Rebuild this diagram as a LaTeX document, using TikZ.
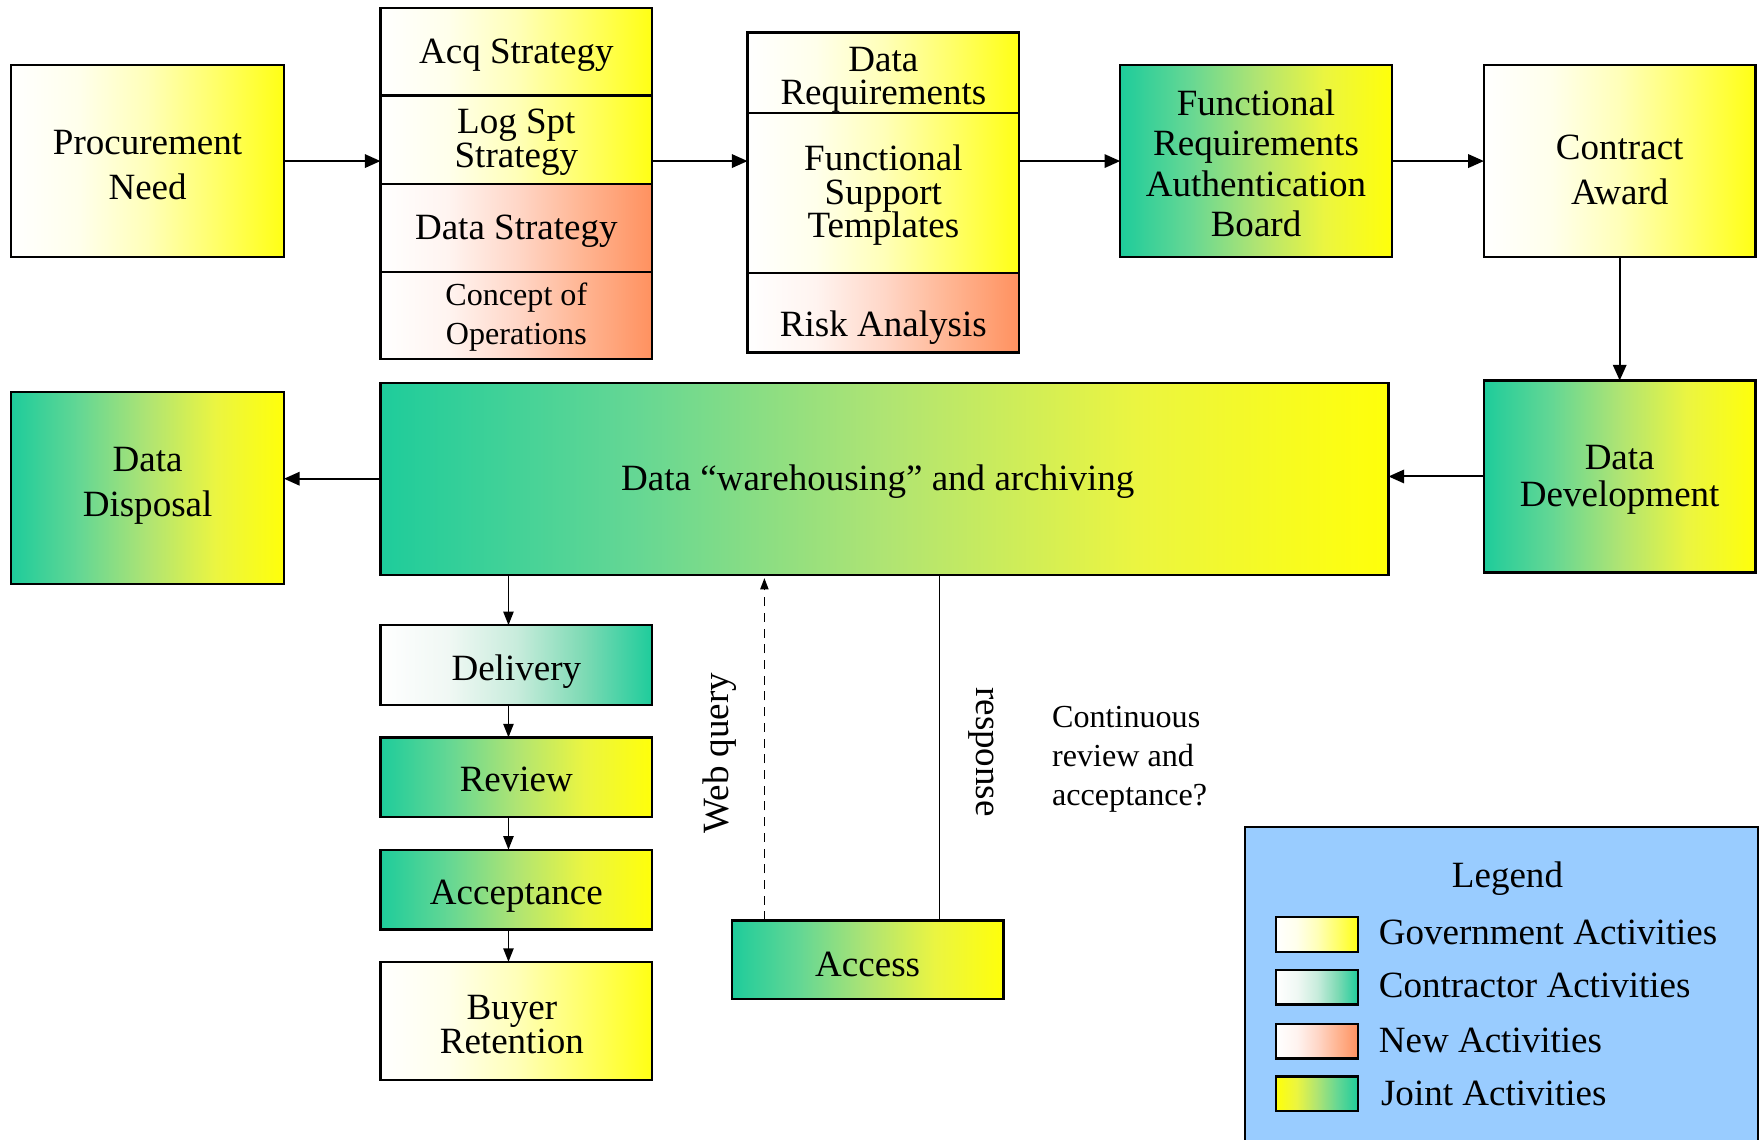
\documentclass[tikz,border=0pt]{standalone}
\usepackage{fontspec}
\setmainfont{Liberation Serif}
\usetikzlibrary{arrows.meta}

% colour stops of the four activity ramps
\definecolor{g0}{RGB}{255,255,255}
\definecolor{g1}{RGB}{255,255,235}
\definecolor{g2}{RGB}{255,255,185}
\definecolor{g3}{RGB}{255,255,105}
\definecolor{g4}{RGB}{255,255,20}
\definecolor{c1}{RGB}{240,248,244}
\definecolor{c2}{RGB}{200,236,220}
\definecolor{c3}{RGB}{125,218,180}
\definecolor{c4}{RGB}{30,204,155}
\definecolor{n1}{RGB}{255,244,240}
\definecolor{n2}{RGB}{255,215,200}
\definecolor{n3}{RGB}{255,180,145}
\definecolor{n4}{RGB}{255,145,95}
\definecolor{j0}{RGB}{30,204,155}
\definecolor{j1}{RGB}{100,215,148}
\definecolor{j2}{RGB}{175,228,115}
\definecolor{j3}{RGB}{235,245,65}
\definecolor{j4}{RGB}{255,255,10}
\definecolor{legendblue}{HTML}{99CCFF}

\pgfdeclarehorizontalshading{govsh}{100bp}{color(0bp)=(g0); color(25bp)=(g0); color(37.5bp)=(g1); color(50bp)=(g2); color(62.5bp)=(g3); color(75bp)=(g4); color(100bp)=(g4)}
\pgfdeclarehorizontalshading{consh}{100bp}{color(0bp)=(g0); color(25bp)=(g0); color(37.5bp)=(c1); color(50bp)=(c2); color(62.5bp)=(c3); color(75bp)=(c4); color(100bp)=(c4)}
\pgfdeclarehorizontalshading{newsh}{100bp}{color(0bp)=(g0); color(25bp)=(g0); color(37.5bp)=(n1); color(50bp)=(n2); color(62.5bp)=(n3); color(75bp)=(n4); color(100bp)=(n4)}
\pgfdeclarehorizontalshading{jointsh}{100bp}{color(0bp)=(j0); color(25bp)=(j0); color(37.5bp)=(j1); color(50bp)=(j2); color(62.5bp)=(j3); color(75bp)=(j4); color(100bp)=(j4)}
\pgfdeclarehorizontalshading{jointrevsh}{100bp}{color(0bp)=(j4); color(25bp)=(j4); color(37.5bp)=(j3); color(50bp)=(j2); color(62.5bp)=(j1); color(75bp)=(j0); color(100bp)=(j0)}

\tikzset{
  base/.style={draw=black, line width=1pt, inner sep=0pt, outer sep=0pt},
  gov/.style={base, shade, shading=govsh},
  contractor/.style={base, shade, shading=consh},
  newact/.style={base, shade, shading=newsh},
  joint/.style={base, shade, shading=jointsh},
  jointrev/.style={base, shade, shading=jointrevsh},
  txt/.style={align=center, inner sep=0pt, font=\fontsize{16.5}{20}\selectfont},
  tight/.style={font=\fontsize{16.5}{15}\selectfont},
  flow/.style={line width=0.9pt, -{Triangle[length=7pt,width=6pt]}},
  smallflow/.style={line width=0.75pt, -{Triangle[length=6pt,width=4.5pt]}},
  lbl/.style={font=\fontsize{16.5}{20}\selectfont, inner sep=0pt},
}

% activity box: style, name, centre, width, height, text options, text
\newcommand{\actbox}[7]{%
  \node[#1, minimum width=#4, minimum height=#5,
        label={[txt,#6]center:{#7}}] (#2) at (#3) {};}

\begin{document}
\begin{tikzpicture}[x=0.5pt,y=-0.5pt]
\useasboundingbox (0,0) rectangle (1568,1015);

% top row
\actbox{gov}{proc}{131.5,143.5}{121.5pt}{85.5pt}{yshift=-1.75pt}{Procurement\\Need}

\actbox{gov}{acq}{460,46}{121pt}{39pt}{yshift=-1.5pt}{Acq Strategy}
\actbox{gov}{log}{460,124.5}{121pt}{39.5pt}{tight,yshift=-1pt}{Log Spt\\Strategy}
\actbox{newact}{dstrat}{460,203}{121pt}{39pt}{yshift=-1.5pt}{Data Strategy}
\actbox{newact}{conops}{460,281}{121pt}{39pt}{font=\fontsize{14.3}{17.5}\selectfont,yshift=-0.75pt}{Concept of\\Operations}

\actbox{gov}{dreq}{787,65}{121pt}{36pt}{tight,yshift=-3pt}{Data\\Requirements}
\actbox{gov}{fst}{787,172}{121pt}{71pt}{tight,yshift=-1pt}{Functional\\Support\\Templates}
\actbox{newact}{risk}{787,278.5}{121pt}{35.5pt}{yshift=-6.5pt}{Risk Analysis}

\actbox{joint}{frab}{1119,143.5}{121pt}{85.5pt}{font=\fontsize{16.5}{18}\selectfont,yshift=-1pt}{Functional\\Requirements\\Authentication\\Board}
\actbox{gov}{award}{1443,143.5}{121pt}{85.5pt}{yshift=-4pt}{Contract\\Award}

% middle row
\actbox{joint}{ddev}{1443,424.5}{121pt}{85.5pt}{font=\fontsize{16.5}{16.5}\selectfont,yshift=-1.5pt}{Data\\Development}
\actbox{joint}{wh}{788,426.5}{449pt}{85.5pt}{xshift=-3pt,yshift=-1.5pt}{Data “warehousing” and archiving}
\actbox{joint}{disp}{131.5,434.5}{121.5pt}{85.5pt}{yshift=1pt}{Data\\Disposal}

% lower column
\actbox{contractor}{deliv}{460,592.5}{121pt}{35.5pt}{yshift=-3pt}{Delivery}
\actbox{joint}{review}{460,692.5}{121pt}{35.5pt}{yshift=-1pt}{Review}
\actbox{joint}{accept}{460,792.5}{121pt}{35.5pt}{yshift=-3pt}{Acceptance}
\actbox{gov}{buyer}{460,909.5}{121pt}{52.5pt}{tight,xshift=-2pt,yshift=-1.5pt}{Buyer\\Retention}
\actbox{joint}{access}{773,855}{121pt}{35pt}{yshift=-2pt}{Access}

% connectors
\draw[flow] (proc.east) -- (proc.east -| log.west);
\draw[flow] (log.east |- proc.east) -- (fst.west |- proc.east);
\draw[flow] (fst.east |- frab.west) -- (frab.west);
\draw[flow] (frab.east) -- (award.west);
\draw[flow] (award.south) -- (ddev.north);
\draw[flow] (ddev.west) -- (ddev.west -| wh.east);
\draw[flow] (wh.west) -- (wh.west -| disp.east);

\coordinate (dcol) at (453,0);
\draw[smallflow] (dcol |- wh.south) -- (dcol |- deliv.north);
\draw[smallflow] (dcol |- deliv.south) -- (dcol |- review.north);
\draw[smallflow] (dcol |- review.south) -- (dcol |- accept.north);
\draw[smallflow] (dcol |- accept.south) -- (dcol |- buyer.north);

\coordinate (wq) at (681,0);
\coordinate (rs) at (837,0);
\draw[line width=0.7pt, dash pattern=on 4pt off 3pt, -{Triangle[length=5pt,width=3.6pt]}] (wq |- access.north) -- ([yshift=-1.5pt]wq |- wh.south);
\draw[line width=0.75pt] (rs |- wh.south) -- (rs |- access.north);

\node[lbl, rotate=90] (wqlabel) at (641,671) {Web query};
\node[lbl, rotate=-90] (rslabel) at (874,670) {response};

\node[anchor=north west, inner sep=0pt, align=left, font=\fontsize{14.3}{17.3}\selectfont] (note) at (937,629) {Continuous\\review and\\acceptance?};

% legend
\draw[line width=1pt, fill=legendblue] (1109,737) rectangle (1566,1030);
\node[lbl] (legtitle) at (1343,783) {Legend};
\node[gov, minimum width=36.5pt, minimum height=15.5pt] (sw1) at (1173.5,832.5) {};
\node[contractor, minimum width=36.5pt, minimum height=15.5pt] (sw2) at (1173.5,879.5) {};
\node[newact, minimum width=36.5pt, minimum height=15.5pt] (sw3) at (1173.5,927.5) {};
\node[jointrev, minimum width=36.5pt, minimum height=15.5pt] (sw4) at (1173.5,974.5) {};
\node[lbl, anchor=west] (lg1) at (1228,831) {Government Activities};
\node[lbl, anchor=west] (lg2) at (1228,878) {Contractor Activities};
\node[lbl, anchor=west] (lg3) at (1228,927) {New Activities};
\node[lbl, anchor=west] (lg4) at (1230,974) {Joint Activities};
\end{tikzpicture}
\end{document}
